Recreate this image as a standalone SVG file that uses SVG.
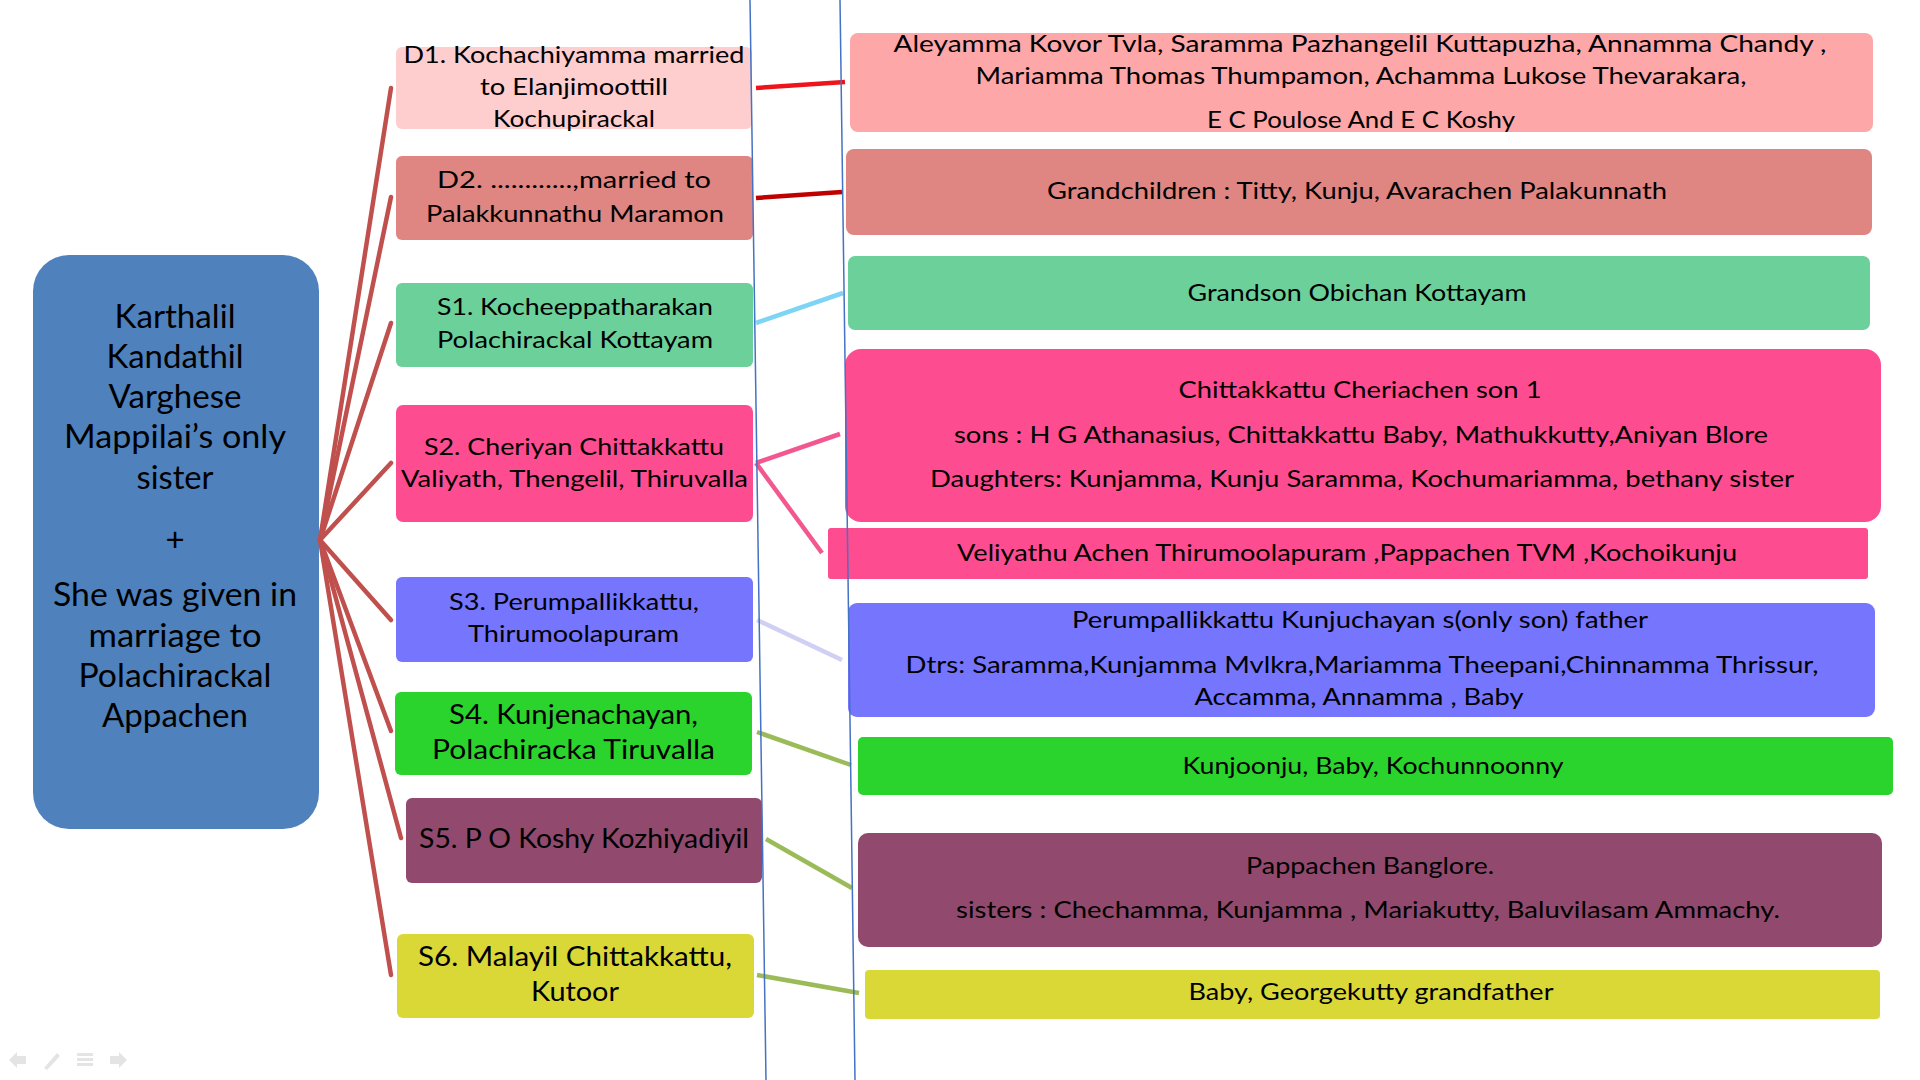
<svg xmlns="http://www.w3.org/2000/svg" width="1920" height="1080" viewBox="0 0 1920 1080">
<style>
text{font-family:Lato,"Liberation Sans",sans-serif;fill:#000;text-anchor:middle}
.m{font-size:33px}
.c{font-size:23px}
.cb{font-size:27px}
.r{font-size:23.5px}
.fan{stroke:#C0504D;stroke-width:4.5;fill:none;stroke-linecap:round}
.lnk{stroke-width:4.5;fill:none}
.vl{stroke:#4472C4;stroke-width:1.5;fill:none}
.ic{fill:#E4E4E4}
</style>
<rect width="1920" height="1080" fill="#fff"/>

<g id="root"><rect x="33" y="255" width="286" height="574" rx="36" fill="#4F81BD"/>
<text class="m" x="175" y="328" textLength="121" lengthAdjust="spacingAndGlyphs">Karthalil</text>
<text class="m" x="175" y="368" textLength="137" lengthAdjust="spacingAndGlyphs">Kandathil</text>
<text class="m" x="175" y="408" textLength="133" lengthAdjust="spacingAndGlyphs">Varghese</text>
<text class="m" x="175" y="448" textLength="222" lengthAdjust="spacingAndGlyphs">Mappilai’s only</text>
<text class="m" x="175" y="489" textLength="77" lengthAdjust="spacingAndGlyphs">sister</text>
<text class="m" x="175" y="551">+</text>
<text class="m" x="175" y="606" textLength="244" lengthAdjust="spacingAndGlyphs">She was given in</text>
<text class="m" x="175" y="647" textLength="173" lengthAdjust="spacingAndGlyphs">marriage to</text>
<text class="m" x="175" y="687" textLength="193" lengthAdjust="spacingAndGlyphs">Polachirackal</text>
<text class="m" x="175" y="727" textLength="146" lengthAdjust="spacingAndGlyphs">Appachen</text>
</g>

<g id="d1"><rect x="396" y="47" width="356" height="82" rx="6" fill="#FECDCE"/>
<text class="c" x="574" y="63" textLength="341" lengthAdjust="spacingAndGlyphs">D1. Kochachiyamma  married</text>
<text class="c" x="574" y="95" textLength="188" lengthAdjust="spacingAndGlyphs">to Elanjimoottill</text>
<text class="c" x="574" y="127" textLength="162" lengthAdjust="spacingAndGlyphs">Kochupirackal</text>
</g>
<g id="d2"><rect x="396" y="156" width="357" height="84" rx="6" fill="#DF8582"/>
<text class="c" x="574" y="188" textLength="274" lengthAdjust="spacingAndGlyphs">D2. ............,married  to</text>
<text class="c" x="575" y="222" textLength="298" lengthAdjust="spacingAndGlyphs">Palakkunnathu Maramon</text>
</g>
<g id="s1"><rect x="396" y="283" width="357" height="84" rx="6" fill="#6CD09A"/>
<text class="c" x="575" y="315" textLength="276" lengthAdjust="spacingAndGlyphs">S1. Kocheeppatharakan</text>
<text class="c" x="575" y="348" textLength="276" lengthAdjust="spacingAndGlyphs">Polachirackal Kottayam</text>
</g>
<g id="s2"><rect x="396" y="405" width="357" height="117" rx="7" fill="#FE4C91"/>
<text class="c" x="574" y="455" textLength="300" lengthAdjust="spacingAndGlyphs">S2. Cheriyan Chittakkattu</text>
<text class="c" x="574.5" y="487" textLength="347" lengthAdjust="spacingAndGlyphs">Valiyath, Thengelil, Thiruvalla</text>
</g>
<g id="s3"><rect x="396" y="577" width="357" height="85" rx="6" fill="#7575FE"/>
<text class="c" x="574" y="610" textLength="250" lengthAdjust="spacingAndGlyphs">S3. Perumpallikkattu,</text>
<text class="c" x="573.5" y="642" textLength="211" lengthAdjust="spacingAndGlyphs">Thirumoolapuram</text>
</g>
<g id="s4"><rect x="395" y="692" width="357" height="83" rx="6" fill="#2BD42D"/>
<text class="cb" x="573.5" y="724" textLength="249" lengthAdjust="spacingAndGlyphs">S4. Kunjenachayan,</text>
<text class="cb" x="573.5" y="759" textLength="283" lengthAdjust="spacingAndGlyphs">Polachiracka  Tiruvalla</text>
</g>
<g id="s5"><rect x="406" y="798" width="356" height="85" rx="6" fill="#914A6D"/>
<text class="cb" x="584" y="848" textLength="330" lengthAdjust="spacingAndGlyphs">S5. P O Koshy Kozhiyadiyil</text>
</g>
<g id="s6"><rect x="397" y="934" width="357" height="84" rx="6" fill="#D9D837"/>
<text class="cb" x="575" y="966" textLength="314" lengthAdjust="spacingAndGlyphs">S6. Malayil Chittakkattu,</text>
<text class="cb" x="575" y="1001" textLength="88" lengthAdjust="spacingAndGlyphs">Kutoor</text>
</g>

<g id="d1r"><rect x="850" y="33" width="1023" height="99" rx="8" fill="#FDA7A8"/>
<text class="r" x="1360" y="52" textLength="933" lengthAdjust="spacingAndGlyphs">Aleyamma  Kovor Tvla,  Saramma  Pazhangelil Kuttapuzha, Annamma Chandy ,</text>
<text class="r" x="1361" y="84" textLength="771" lengthAdjust="spacingAndGlyphs">Mariamma Thomas Thumpamon,  Achamma Lukose Thevarakara,</text>
<text class="r" x="1361" y="128" textLength="308" lengthAdjust="spacingAndGlyphs">E C Poulose And E C Koshy</text>
</g>
<g id="d2r"><rect x="846" y="149" width="1026" height="86" rx="8" fill="#DF8582"/>
<text class="r" x="1357" y="199" textLength="620" lengthAdjust="spacingAndGlyphs">Grandchildren : Titty, Kunju, Avarachen Palakunnath</text>
</g>
<g id="s1r"><rect x="848" y="256" width="1022" height="74" rx="7" fill="#6CD09A"/>
<text class="r" x="1357" y="301" textLength="339" lengthAdjust="spacingAndGlyphs">Grandson Obichan Kottayam</text>
</g>
<g id="s2r"><rect x="845" y="349" width="1036" height="173" rx="16" fill="#FE4C91"/>
<text class="r" x="1360" y="398" textLength="363" lengthAdjust="spacingAndGlyphs">Chittakkattu Cheriachen  son 1</text>
<text class="r" x="1361" y="443" textLength="814" lengthAdjust="spacingAndGlyphs">sons :  H G Athanasius, Chittakkattu Baby, Mathukkutty,Aniyan Blore</text>
<text class="r" x="1362" y="487" textLength="864" lengthAdjust="spacingAndGlyphs">Daughters: Kunjamma, Kunju Saramma, Kochumariamma, bethany sister</text>
</g>
<g id="s2r2"><rect x="828" y="528" width="1040" height="51" rx="3" fill="#FE4C91"/>
<text class="r" x="1347" y="561" textLength="780" lengthAdjust="spacingAndGlyphs">Veliyathu Achen Thirumoolapuram ,Pappachen TVM ,Kochoikunju</text>
</g>
<g id="s3r"><rect x="848" y="603" width="1027" height="114" rx="9" fill="#7575FE"/>
<text class="r" x="1360" y="628" textLength="576" lengthAdjust="spacingAndGlyphs">Perumpallikkattu Kunjuchayan s(only son) father</text>
<text class="r" x="1362" y="673" textLength="913" lengthAdjust="spacingAndGlyphs">Dtrs: Saramma,Kunjamma  Mvlkra,Mariamma  Theepani,Chinnamma  Thrissur,</text>
<text class="r" x="1359" y="705" textLength="329" lengthAdjust="spacingAndGlyphs">Accamma, Annamma , Baby</text>
</g>
<g id="s4r"><rect x="858" y="737" width="1035" height="58" rx="5" fill="#2BD42D"/>
<text class="r" x="1373" y="774" textLength="381" lengthAdjust="spacingAndGlyphs">Kunjoonju, Baby, Kochunnoonny</text>
</g>
<g id="s5r"><rect x="858" y="833" width="1024" height="114" rx="10" fill="#914A6D"/>
<text class="r" x="1370" y="874" textLength="248" lengthAdjust="spacingAndGlyphs">Pappachen Banglore.</text>
<text class="r" x="1368" y="918" textLength="824" lengthAdjust="spacingAndGlyphs">sisters : Chechamma, Kunjamma , Mariakutty, Baluvilasam Ammachy.</text>
</g>
<g id="s6r"><rect x="865" y="970" width="1015" height="49" rx="4" fill="#D9D837"/>
<text class="r" x="1371" y="1000" textLength="365" lengthAdjust="spacingAndGlyphs">Baby, Georgekutty grandfather</text>
</g>

<g id="connectors">
<line class="fan" x1="320" y1="540" x2="391" y2="88"/>
<line class="fan" x1="320" y1="540" x2="391" y2="197"/>
<line class="fan" x1="320" y1="540" x2="391" y2="323"/>
<line class="fan" x1="320" y1="540" x2="391" y2="463"/>
<line class="fan" x1="320" y1="540" x2="391" y2="620"/>
<line class="fan" x1="320" y1="540" x2="391" y2="731"/>
<line class="fan" x1="320" y1="540" x2="401" y2="838"/>
<line class="fan" x1="320" y1="540" x2="391" y2="975"/>
<line class="lnk" stroke="#EE141C" x1="756" y1="88" x2="845" y2="82"/>
<line class="lnk" stroke="#C00000" x1="756" y1="198" x2="842" y2="192"/>
<line class="lnk" stroke="#7ED4F4" x1="756" y1="323" x2="843" y2="293"/>
<line class="lnk" stroke="#F2588F" x1="756" y1="463" x2="840" y2="434"/>
<line class="lnk" stroke="#F2588F" x1="756" y1="463" x2="822" y2="553"/>
<line class="lnk" stroke="#D0D0F5" x1="757" y1="620" x2="842" y2="660"/>
<line class="lnk" stroke="#9BBB59" x1="757" y1="732" x2="851" y2="765"/>
<line class="lnk" stroke="#9BBB59" x1="766" y1="839" x2="852" y2="888"/>
<line class="lnk" stroke="#9BBB59" x1="757" y1="975" x2="859" y2="993"/>
<line class="vl" x1="750" y1="0" x2="766" y2="1080"/>
<line class="vl" x1="840" y1="0" x2="855" y2="1080"/>
</g>

<g id="nav">
<path class="ic" d="M9 1060 L17 1052 L17 1056 L26 1056 L26 1064 L17 1064 L17 1068 Z"/>
<path class="ic" d="M44 1068 L57 1053 L60 1056 L47 1070 Z"/>
<rect class="ic" x="77" y="1053" width="16" height="3"/>
<rect class="ic" x="77" y="1058" width="16" height="3"/>
<rect class="ic" x="77" y="1063" width="16" height="3"/>
<path class="ic" d="M127 1060 L119 1052 L119 1056 L110 1056 L110 1064 L119 1064 L119 1068 Z"/>
</g>
</svg>
